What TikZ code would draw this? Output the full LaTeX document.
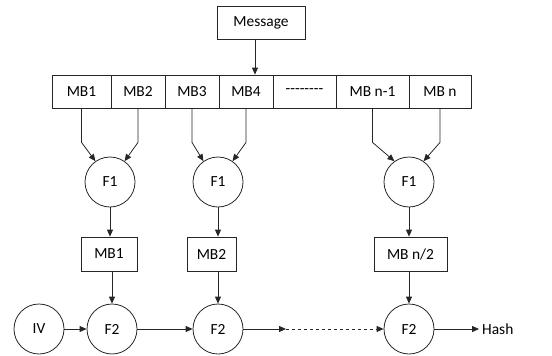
\documentclass[tikz,border=0pt]{standalone}
\usepackage{fontspec}
\setmainfont{Carlito}
\usetikzlibrary{positioning,arrows.meta,calc}
\tikzset{
  flowarrow/.style={-{Triangle[length=7bp, width=6bp]}, line width=0.8pt, draw=black!85},
  dasharrow/.style={flowarrow, dashed},
  blockbox/.style={draw=black!85, line width=0.8pt, rectangle, inner sep=0pt, minimum height=33bp, align=center},
  fnode/.style={draw=black!85, line width=0.8pt, circle, inner sep=0pt, minimum size=50bp},
  hashlabel/.style={inner sep=3bp, anchor=west}
}

\begin{document}
\begin{tikzpicture}[x=1bp, y=1bp, every node/.style={font=\fontsize{15.5}{18}\selectfont}]
      \useasboundingbox (0,0) rectangle (552,355);
      \node[blockbox, minimum width=88bp] (msg) at (261,332.5) {Message};
      % message blocks
      \node[blockbox, minimum width=59bp] (mb1) at (81.5,263.5) {MB1};
      \node[blockbox, minimum width=54bp] (mb2) at (138,263.5) {MB2};
      \node[blockbox, minimum width=54bp] (mb3) at (192,263.5) {MB3};
      \node[blockbox, minimum width=54bp] (mb4) at (246,263.5) {MB4};
      \node[blockbox, minimum width=63bp] (mbdots) at (304.5,263.5) {-{}-{}-{}-{}-{}-{}-{}-};
      \node[blockbox, minimum width=73bp] (mbm) at (372.5,263.5) {MB n-1};
      \node[blockbox, minimum width=62bp] (mbn) at (440,263.5) {MB n};
      % first stage
      \node[fnode] (f1a) at (110,173) {F1};
      \node[fnode] (f1b) at (218,173) {F1};
      \node[fnode] (f1c) at (409,173) {F1};
      \node[blockbox, minimum width=56bp, minimum height=34bp] (bx1) at (109,101) {MB1};
      \node[blockbox, minimum width=49bp, minimum height=34bp] (bx2) at (211.5,101) {MB2};
      \node[blockbox, minimum width=73bp, minimum height=34bp] (bx3) at (410.5,101) {MB n/2};
      % second stage
      \node[fnode] (iv) at (39,26) {IV};
      \node[fnode] (f2a) at (112,26) {F2};
      \node[fnode] (f2b) at (218,26) {F2};
      \node[fnode] (f2c) at (409,26) {F2};
      \coordinate (gap) at (286,26);
      \node[hashlabel] (hash) at (479,26) {Hash};
      \draw[flowarrow] ([xshift=-6bp]msg.south) -- ([xshift=-6bp]msg.south |- mb4.north);
      \draw[flowarrow] (mb1.south) -- ++(0,-34) -- (f1a.125);
      \draw[flowarrow] (mb2.south) -- ++(0,-34) -- (f1a.55);
      \draw[flowarrow] (mb3.south) -- ++(0,-34) -- (f1b.125);
      \draw[flowarrow] (mb4.south) -- ++(0,-34) -- (f1b.55);
      \draw[flowarrow] (mbm.south) -- ++(0,-34) -- (f1c.125);
      \draw[flowarrow] (mbn.south) -- ++(0,-34) -- (f1c.55);
      \draw[flowarrow] (f1a.south) -- (f1a |- bx1.north);
      \draw[flowarrow] (f1b.south) -- (f1b |- bx2.north);
      \draw[flowarrow] (f1c.south) -- (f1c |- bx3.north);
      \draw[flowarrow] (f2a |- bx1.south) -- (f2a.north);
      \draw[flowarrow] (f2b |- bx2.south) -- (f2b.north);
      \draw[flowarrow] (f2c |- bx3.south) -- (f2c.north);
      \draw[flowarrow] (iv.east) -- (f2a.west);
      \draw[flowarrow] (f2a.east) -- (f2b.west);
      \draw[flowarrow] (f2b.east) -- (gap);
      \draw[dasharrow] (gap) -- (f2c.west);
      \draw[flowarrow] (f2c.east) -- (hash.west);
\end{tikzpicture}
\end{document}
